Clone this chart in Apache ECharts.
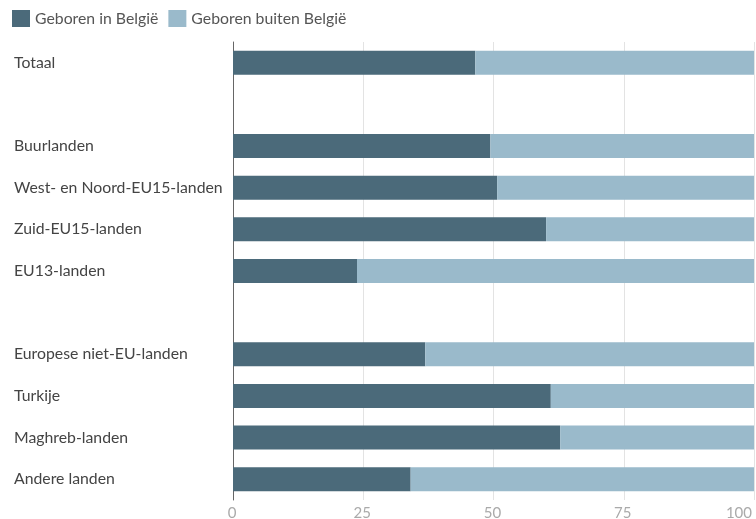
<!DOCTYPE html>
<html>
<head>
<meta charset="utf-8">
<script src="https://cdn.jsdelivr.net/npm/echarts@6/dist/echarts.min.js"></script>
<style>
  html, body { margin: 0; padding: 0; background: #fff; }
  #chart { width: 756px; height: 519px; }
</style>
</head>
<body>
<div id="chart"></div>
<script>
// Rows from top to bottom; empty strings are spacer rows between groups
const categories = [
  'Totaal', '',
  'Buurlanden', 'West- en Noord-EU15-landen', 'Zuid-EU15-landen', 'EU13-landen', '',
  'Europese niet-EU-landen', 'Turkije', 'Maghreb-landen', 'Andere landen'
];
// Share (%) born in Belgium per row
const bornInBelgium = [46.5, null, 49.4, 50.7, 60.1, 23.8, null, 36.9, 61.0, 62.8, 34.1];
// Share (%) born outside Belgium per row
const bornOutside = bornInBelgium.map(v => v == null ? null : +(100 - v).toFixed(1));
const seriesNames = ['Geboren in België', 'Geboren buiten België'];
const xTicks = [0, 25, 50, 75, 100];

const chart = echarts.init(document.getElementById('chart'));
chart.setOption({
  animation: false,
  textStyle: { fontFamily: 'Lato, "Open Sans", sans-serif' },
  legend: {
    left: 12, top: 10, padding: 0,
    itemWidth: 18, itemHeight: 17, itemGap: 10,
    icon: 'rect',
    textStyle: { fontSize: 15.8, color: '#555' },
    data: seriesNames
  },
  grid: {
    left: 233, right: 2, top: 42, bottom: 19,
    containLabel: false, outerBoundsMode: 'none'
  },
  xAxis: {
    type: 'value', min: 0, max: 100, interval: 25,
    axisLine: { show: false },
    axisTick: { show: false },
    splitLine: { show: true, lineStyle: { color: '#e3e3e3', width: 1 } },
    axisLabel: {
      color: '#aaa', fontSize: 15, margin: 6,
      alignMaxLabel: 'right',
      padding: [0, 2, 0, 0],
      formatter: v => xTicks.includes(v) ? String(v) : ''
    }
  },
  yAxis: {
    type: 'category', inverse: true, data: categories,
    axisLine: { show: true, lineStyle: { color: '#666', width: 1 } },
    axisTick: { show: false },
    axisLabel: { align: 'left', margin: 219, color: '#444', fontSize: 15.8 }
  },
  series: [
    {
      name: seriesNames[0], type: 'bar', stack: 'total', barWidth: 24,
      itemStyle: { color: '#4b6a7a' },
      data: bornInBelgium
    },
    {
      name: seriesNames[1], type: 'bar', stack: 'total', barWidth: 24,
      itemStyle: { color: '#9abacb' },
      data: bornOutside
    }
  ]
});
</script>
</body>
</html>
